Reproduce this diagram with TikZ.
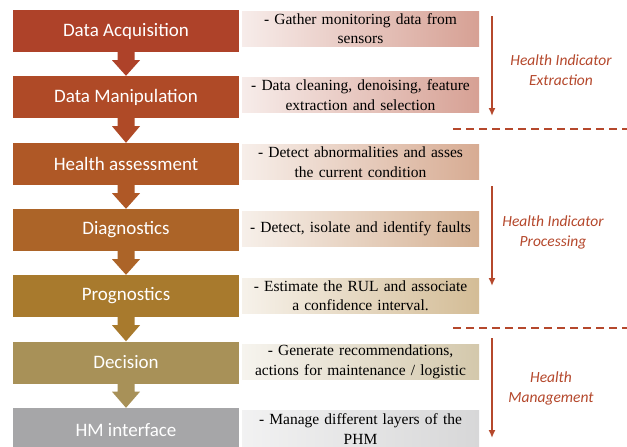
\documentclass[tikz,border=0pt]{standalone}
\usepackage{fontspec}
\setmainfont{Liberation Serif}
\newfontfamily\carl{Carlito}
\usetikzlibrary{arrows.meta}
\definecolor{c1}{HTML}{AE4229}
\definecolor{c2}{HTML}{AF4A27}
\definecolor{c3}{HTML}{AF5826}
\definecolor{c4}{HTML}{AC6428}
\definecolor{c5}{HTML}{A87A2D}
\definecolor{c6}{HTML}{A89158}
\definecolor{c7}{HTML}{A6A6A8}
\definecolor{lab}{HTML}{B5482C}
\tikzset{
  lbox/.style={rectangle, minimum width=226pt, minimum height=42pt, inner sep=0pt,
    text=white, font=\carl\fontsize{19}{22}\selectfont},
  rbox/.style={rectangle, minimum width=237pt, minimum height=35pt, inner sep=0pt,
    align=center, text width=232pt, font=\fontsize{15.5}{19.5}\selectfont,
    left color=#1!10!white, right color=#1!50!white},
  harrow/.style={draw=lab, line width=1.8pt, -{Latex[length=8pt,width=7pt]}},
  sep/.style={draw=lab, line width=2.4pt, dash pattern=on 8pt off 5pt},
  lbl/.style={text=lab, align=center, font=\carl\itshape\fontsize{15.5}{20}\selectfont}
}
\newcommand{\blockarrow}[3]{%
  \fill[#1] ([xshift=-8.5pt]#2.south) -- ([xshift=-8.5pt,yshift=-8pt]#2.south)
    -- ([xshift=-14pt,yshift=-8pt]#2.south) -- (#3.north)
    -- ([xshift=14pt,yshift=-8pt]#2.south) -- ([xshift=8.5pt,yshift=-8pt]#2.south)
    -- ([xshift=8.5pt]#2.south) -- cycle;}
\begin{document}
\begin{tikzpicture}[x=1pt,y=-1pt]
\useasboundingbox[fill=white] (0,0) rectangle (627,447);
% left boxes
\node[lbox, fill=c1] (l1) at (126,31) {Data Acquisition};
\node[lbox, fill=c2] (l2) at (126,97) {Data Manipulation};
\node[lbox, fill=c3] (l3) at (126,164) {Health assessment};
\node[lbox, fill=c4] (l4) at (126,230) {Diagnostics};
\node[lbox, fill=c5] (l5) at (126,296) {Prognostics};
\node[lbox, fill=c6] (l6) at (126,362.5) {Decision};
\node[lbox, fill=c7, minimum height=44pt] (l7) at (126,430) {\raisebox{1pt}{HM interface}};
% block arrows
\blockarrow{c1}{l1}{l2}
\blockarrow{c2}{l2}{l3}
\blockarrow{c3}{l3}{l4}
\blockarrow{c4}{l4}{l5}
\blockarrow{c5}{l5}{l6}
\blockarrow{c6}{l6}{l7}
% right boxes
\node[rbox=c1] (r1) at (360.5,28.5) {- Gather monitoring data from\\sensors};
\node[rbox=c1] (r2) at (360.5,95) {- Data cleaning, denoising, feature\\extraction and selection};
\node[rbox=c3] (r3) at (360.5,162) {- Detect abnormalities and asses\\the current condition};
\node[rbox=c4] (r4) at (360.5,228.5) {- Detect, isolate and identify faults};
\node[rbox=c5] (r5) at (360.5,295.5) {- Estimate the RUL and associate\\a confidence interval.};
\node[rbox=c6] (r6) at (360.5,362) {- Generate recommendations,\\actions for maintenance / logistic};
\node[rbox=c7, minimum height=38pt, left color=c7!15!white, right color=c7!45!white] (r7) at (360.5,429) {- Manage different layers of the\\PHM};
% process arrows
\coordinate (a1s) at (492,16);
\coordinate (a1e) at (492,116);
\coordinate (a2s) at (492,186);
\coordinate (a2e) at (492,286);
\coordinate (a3s) at (492,338);
\coordinate (a3e) at (492,438);
\draw[harrow] (a1s) -- (a1e);
\draw[harrow] (a2s) -- (a2e);
\draw[harrow] (a3s) -- (a3e);
% separators
\coordinate (d1s) at (453,129);
\coordinate (d1e) at (627,129);
\coordinate (d2s) at (453,328);
\coordinate (d2e) at (627,328);
\draw[sep] (d1s) -- (d1e);
\draw[sep] (d2s) -- (d2e);
% labels
\node[lbl] (t1) at (561,70) {Health Indicator\\Extraction};
\node[lbl] (t2) at (553,232) {Health Indicator\\Processing};
\node[lbl] (t3) at (551,388) {Health\\Management};
\end{tikzpicture}
\end{document}
